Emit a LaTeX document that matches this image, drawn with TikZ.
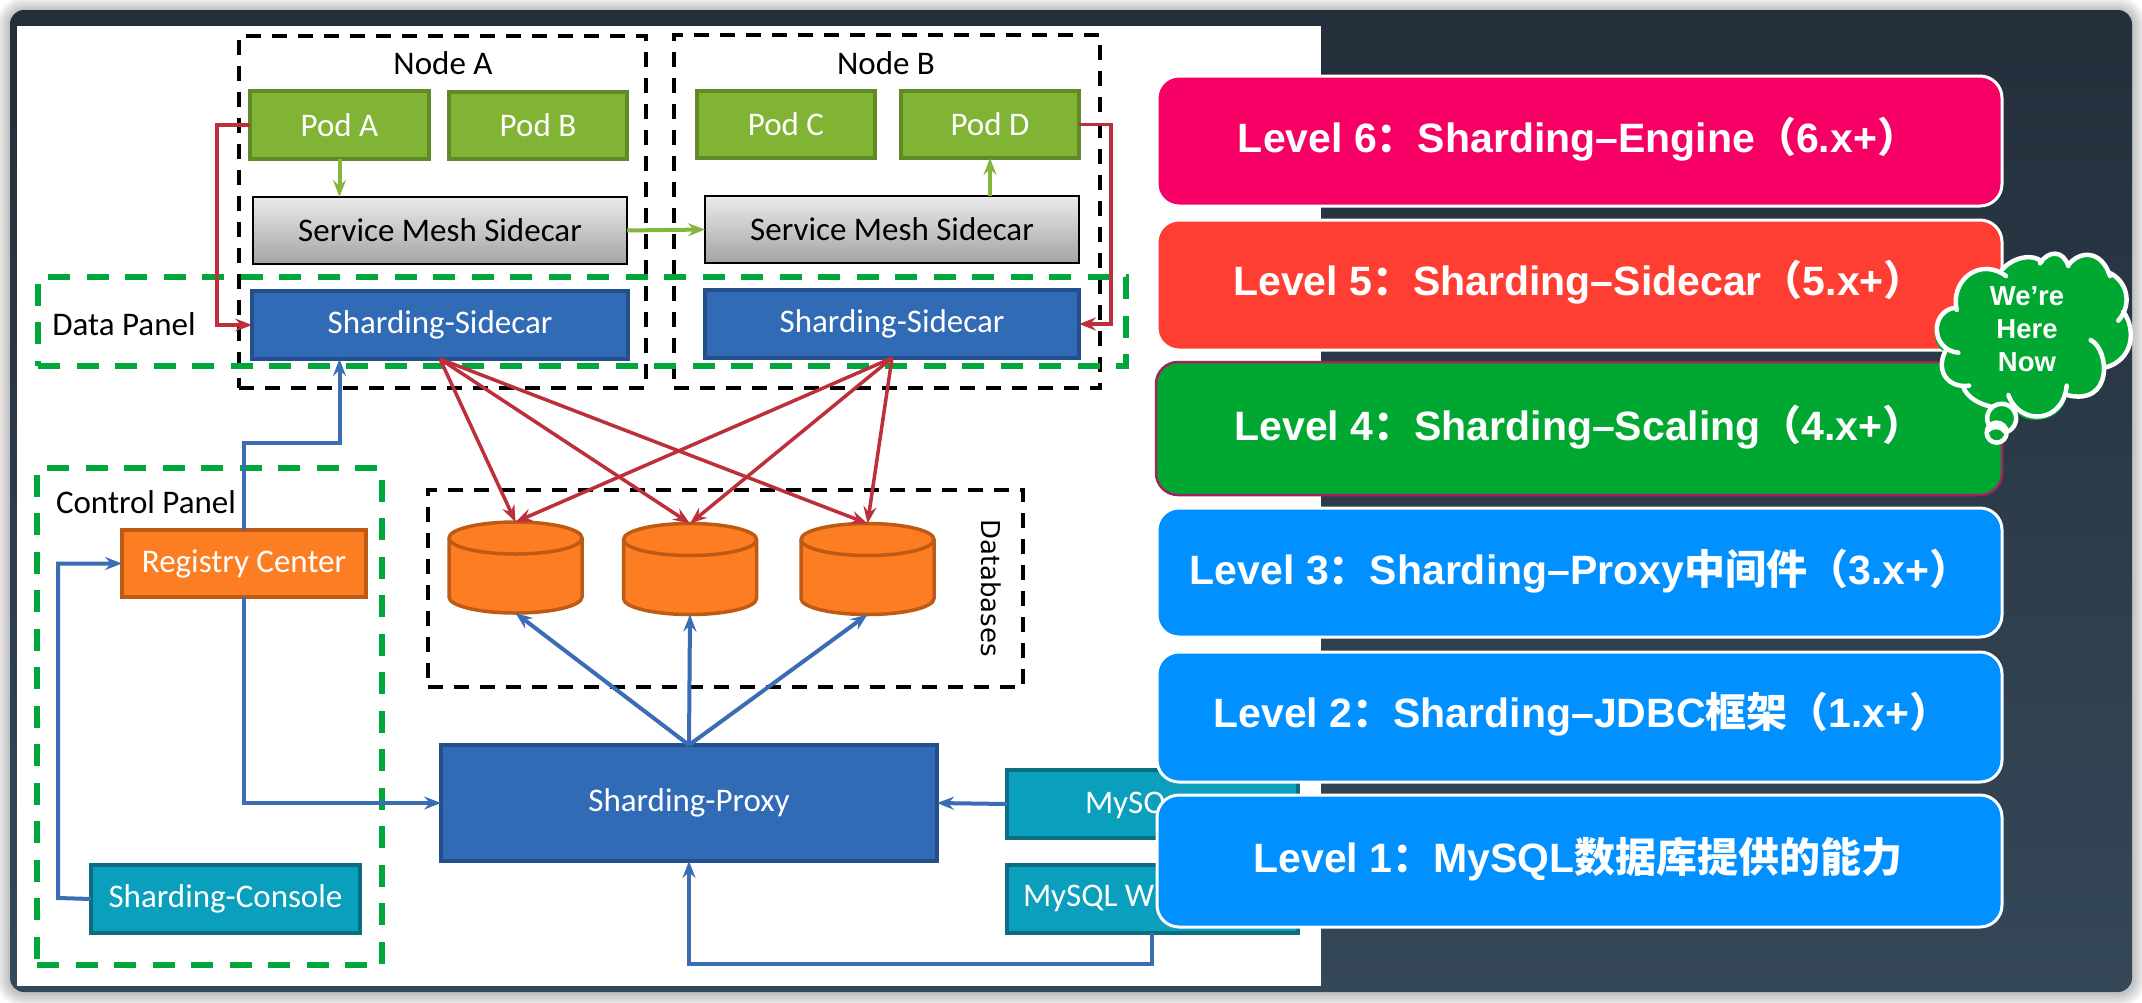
\documentclass[tikz,border=0pt]{standalone}
\usepackage{fontspec}
\setmainfont{Carlito}
\newfontfamily\lvfont{Liberation Sans}
\newfontfamily\cjk{Noto Sans CJK SC}
\newfontfamily\dvfont{DejaVu Sans}
\usetikzlibrary{arrows.meta,calc}
\definecolor{podfill}{HTML}{81B335}
\definecolor{poddark}{HTML}{5F8A27}
\definecolor{bluefill}{HTML}{316BB5}
\definecolor{bluedark}{HTML}{234F8C}
\definecolor{tealfill}{HTML}{0A9FBC}
\definecolor{tealdark}{HTML}{0B6E80}
\definecolor{orgfill}{HTML}{FD7E22}
\definecolor{orgdark}{HTML}{BF5A14}
\definecolor{panelgreen}{HTML}{00A83C}
\definecolor{lineblue}{HTML}{3A6DB3}
\definecolor{linered}{HTML}{BE2F3C}
\definecolor{linegreen}{HTML}{84B53C}
\definecolor{lvpink}{HTML}{F60066}
\definecolor{lvred}{HTML}{FF3E33}
\definecolor{lvgreen}{HTML}{00A832}
\definecolor{lvblue}{HTML}{0090FF}
\definecolor{lvborder}{HTML}{A0245F}
\definecolor{wintop}{HTML}{232F3B}
\definecolor{winbot}{HTML}{354858}
\tikzset{
  base/.style={inner sep=0pt,outer sep=0pt,align=center},
  txt/.style={font=\fontsize{33}{38}\selectfont},
  podbox/.style={base,txt,fill=podfill,draw=poddark,line width=3.5pt,text=white},
  smsbox/.style={base,txt,top color=white!92!black,bottom color=black!36,draw=black,line width=2.5pt,text=black},
  blubox/.style={base,txt,fill=bluefill,draw=bluedark,line width=3.5pt,text=white},
  tealbox/.style={base,txt,fill=tealfill,draw=tealdark,line width=3.5pt,text=white},
  orgbox/.style={base,txt,fill=orgfill,draw=orgdark,line width=3.5pt,text=white},
  blackdash/.style={base,draw=black,line width=3.5pt,dash pattern=on 15pt off 11pt},
  greendash/.style={base,draw=panelgreen,line width=5.5pt,dash pattern=on 22pt off 16.5pt},
  lab/.style={base,txt,text=black},
  lvbox/.style={base,rounded corners=22pt},
  lvtext/.style={base,text=white,font=\lvfont\bfseries\fontsize{41}{46}\selectfont},
  dbcyl/.style={fill=orgfill,draw=orgdark,line width=3.5pt},
  tipped/.style={-{Stealth[length=17pt,width=13pt,inset=6pt]}},
  bluearrow/.style={tipped,draw=lineblue,line width=4pt},
  redarrow/.style={tipped,draw=linered,line width=3.5pt},
  greenarrow/.style={tipped,draw=linegreen,line width=4pt},
  lobe/.style={draw=white,line width=4.5pt,line cap=round},
}
\newcommand{\boxnode}[7][]{\node[#6,#1,minimum width={#4-#2},minimum height={#5-#3}] (#7) at ({(#2+#4)/2},{(#3+#5)/2})}
\newcommand{\dbdraw}[1]{%
  \draw[dbcyl] ([yshift=-16pt]#1.north west) arc[start angle=180,end angle=0,x radius=66.5pt,y radius=16pt]
     -- ([yshift=16pt]#1.south east) arc[start angle=0,end angle=-180,x radius=66.5pt,y radius=16pt] -- cycle;
  \draw[dbcyl,fill=none] ([yshift=-16pt]#1.north west) arc[start angle=180,end angle=360,x radius=66.5pt,y radius=16pt];}
\begin{document}
\begin{tikzpicture}[x=1pt,y=-1pt]
\useasboundingbox (0,0) rectangle (2142,1002);
\fill[white] (0,0) rectangle (2142,1002);
% soft shadow round the window
\foreach \w in {4,8,12,16,20,24,28}
  \draw[black,opacity=.035,line width=\w pt,rounded corners=14pt] (10,11) rectangle (2132,993);
% window
\shade[top color=wintop,bottom color=winbot,rounded corners=14pt] (10,10) rectangle (2132,992);
\fill[white] (17,26) rectangle (1321,986);

% dashed frames
\boxnode{239}{36}{646}{388}{blackdash}{nodeA} {};
\boxnode{674}{35}{1100}{388}{blackdash}{nodeB} {};
\boxnode{428}{490}{1023}{687}{blackdash}{dbframe} {};
\boxnode{38}{277}{1126}{366}{greendash}{dataP} {};
\boxnode{37}{468}{382}{965}{greendash}{ctrlP} {};

% labels
\node[lab] (lnodeA) at (443,63) {Node A};
\node[lab] (lnodeB) at (886,63) {Node B};
\node[lab] (ldata) at (124,324) {Data Panel};
\node[lab] (lctrl) at (146,502) {Control Panel};
\node[base,rotate=-90,font=\dvfont\fontsize{26}{30}\selectfont] (ldb) at (991,588) {Databases};

% boxes
\boxnode{250}{91}{429}{159}{podbox}{podA} {Pod A};
\boxnode{449}{92}{627}{159}{podbox}{podB} {Pod B};
\boxnode{697}{91}{875}{158}{podbox}{podC} {Pod C};
\boxnode{901}{91}{1079}{158}{podbox}{podD} {Pod D};
\boxnode{253}{197}{627}{264}{smsbox}{smsA} {Service Mesh Sidecar};
\boxnode{705}{196}{1079}{263}{smsbox}{smsB} {Service Mesh Sidecar};
\boxnode{252}{291}{628}{359}{blubox}{ssA} {Sharding-Sidecar};
\boxnode{705}{290}{1079}{358}{blubox}{ssB} {Sharding-Sidecar};
\boxnode{122}{530}{366}{597}{orgbox}{reg} {Registry Center};
\boxnode{91}{865}{360}{933}{tealbox}{con} {Sharding-Console};
\boxnode{441}{745}{937}{861}{blubox}{proxy} {Sharding-Proxy};
\boxnode{1007}{770}{1298}{838}{tealbox}{myA} {};
\boxnode{1007}{865}{1298}{933}{tealbox}{myB} {};
\node[base,txt,text=white,anchor=west] (myAt) at (1085,805) {MySQ};
\node[base,txt,text=white,anchor=west] (myBt) at (1023,898) {MySQL W};

% databases
\node[base,minimum width=133,minimum height=91] (db1) at (515.5,567.5) {};
\node[base,minimum width=133,minimum height=91] (db2) at (690,569) {};
\node[base,minimum width=133,minimum height=91] (db3) at (867.5,569) {};
\dbdraw{db1}\dbdraw{db2}\dbdraw{db3}

% connectors
\draw[redarrow] (podA.west) -- ++(-33,0) |- (ssA.west);
\draw[redarrow] (podD.east) -- ++(32,0) |- (ssB.east);
\draw[greenarrow] (podA.south) -- (podA.south |- smsA.north);
\draw[greenarrow] (smsB.north -| podD.south) -- (podD.south);
\draw[greenarrow] (smsA.east) -- (smsB.west);
\foreach \s in {ssA,ssB}
  \foreach \d in {db1,db2,db3}
    \draw[redarrow] (\s.south) -- (\d.north);
\foreach \d in {db1,db2,db3}
  \draw[bluearrow] (proxy.north) -- (\d.south);
\coordinate (regup) at (reg.north |- 0,443);
\draw[bluearrow] (reg.north) -- (regup) -| (podA.south |- ssA.south);
\draw[bluearrow] (reg.south) |- (proxy.west);
\coordinate (conleft) at (58,898);
\draw[bluearrow] (con.west) -- (conleft) |- (reg.west);
\draw[bluearrow] (myA.west) -- (proxy.east);
\coordinate (mybdown) at (1152,933);
\coordinate (mybturn) at (1152,964);
\draw[bluearrow] (mybdown) -- (mybturn) -| (proxy.south);

% level bars
\boxnode{1157}{76}{2002}{206}{lvbox,fill=lvpink,draw=white,line width=3pt}{L6} {};
\boxnode{1157}{220}{2002}{350}{lvbox,fill=lvred,draw=white,line width=3pt}{L5} {};
\boxnode{1156}{362}{2002}{495}{lvbox,fill=lvgreen,draw=lvborder,line width=2.5pt}{L4} {};
\boxnode{1157}{508}{2002}{637}{lvbox,fill=lvblue,draw=white,line width=3pt}{L3} {};
\boxnode{1157}{652}{2002}{782}{lvbox,fill=lvblue,draw=white,line width=3pt}{L2} {};
\boxnode{1157}{795}{2002}{927}{lvbox,fill=lvblue,draw=white,line width=3pt}{L1} {};
\node[lvtext] (t6) at (1578,139) {Level 6{\cjk：}Sharding–Engine{\cjk（}6.x+{\cjk）}};
\node[lvtext] (t5) at (1579,282) {Level 5{\cjk：}Sharding–Sidecar{\cjk（}5.x+{\cjk）}};
\node[lvtext] (t4) at (1579,427) {Level 4{\cjk：}Sharding–Scaling{\cjk（}4.x+{\cjk）}};
\node[lvtext] (t3) at (1580,571) {Level 3{\cjk：}Sharding–Proxy{\cjk 中间件（}3.x+{\cjk）}};
\node[lvtext] (t2) at (1582,714) {Level 2{\cjk：}Sharding–JDBC{\cjk 框架（}1.x+{\cjk）}};
\node[lvtext] (t1) at (1578,859) {Level 1{\cjk：}MySQL{\cjk 数据库提供的能力}};

% thought cloud (drawn in the coordinates of a 3x crop)
\begin{scope}[shift={(1920,240)},x=0.3333pt,y=-0.3333pt]
\fill[lvgreen] (110,205) .. controls (90,120) and (180,50) .. (258,108)
  -- (245,90) .. controls (280,50) and (340,40) .. (365,65)
  .. controls (385,30) and (430,30) .. (445,75)
  .. controls (480,30) and (545,30) .. (570,105)
  .. controls (620,120) and (640,190) .. (610,215)
  .. controls (650,270) and (640,360) .. (555,383)
  .. controls (565,470) and (480,490) .. (440,465)
  .. controls (430,550) and (310,560) .. (285,510)
  .. controls (220,510) and (150,490) .. (130,440)
  .. controls (90,445) and (45,400) .. (75,335)
  .. controls (30,320) and (30,210) .. (108,205) -- cycle;
\draw[lobe] (110,210) .. controls (90,120) and (180,50) .. (258,108);
\draw[lobe] (245,90) .. controls (280,50) and (340,40) .. (365,65);
\draw[lobe] (360,70) .. controls (385,30) and (430,30) .. (445,78);
\draw[lobe] (445,75) .. controls (480,30) and (545,30) .. (570,108);
\draw[lobe] (565,97) .. controls (620,120) and (640,190) .. (595,242);
\draw[lobe] (610,215) .. controls (650,270) and (640,360) .. (555,383);
\draw[lobe] (512,300) .. controls (570,330) and (580,500) .. (440,465);
\draw[lobe] (440,437) .. controls (430,550) and (300,560) .. (265,465);
\draw[lobe] (285,505) .. controls (220,510) and (150,490) .. (130,442);
\draw[lobe] (147,437) .. controls (90,445) and (45,400) .. (75,335);
\draw[lobe] (115,338) .. controls (30,330) and (30,210) .. (108,203);
\draw[lobe,fill=lvgreen] (245,535) circle[radius=14.5pt];
\draw[lobe,fill=lvgreen] (230,578) circle[radius=10pt];
\draw[lobe] (205,570) .. controls (225,555) and (245,560) .. (255,575);
\end{scope}
\node[base,text=white,font=\lvfont\bfseries\fontsize{27.5}{33}\selectfont] (here) at (2027,329) {We’re\\Here\\Now};
\end{tikzpicture}
\end{document}
